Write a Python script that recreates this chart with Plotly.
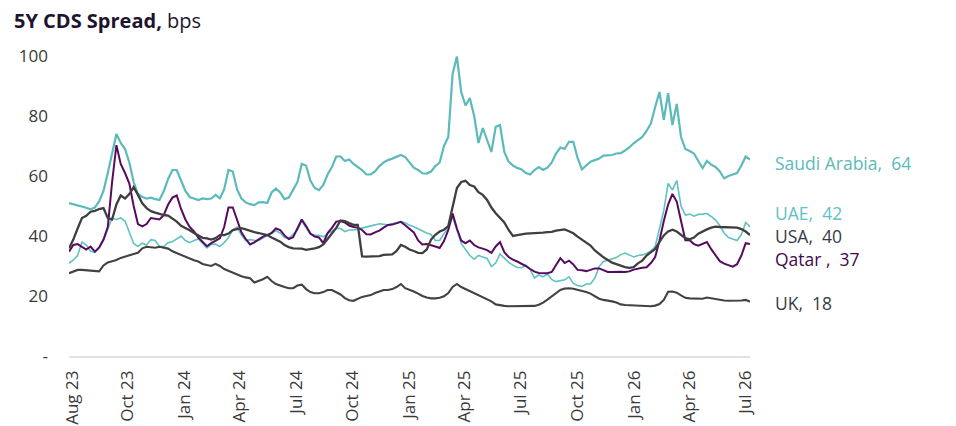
import pandas as pd
import plotly.graph_objects as go

dates = pd.date_range("2023-07-28", periods=159, freq="7D")

saudi = [51, 50.6, 50.3, 50, 49.4, 48.9, 49.5, 51.5, 55, 61,
         68, 74, 71, 69, 64.5, 58, 54, 53, 52.5, 52.8,
         52.3, 52, 55, 59, 62, 62, 58.5, 55, 53, 52.5,
         52, 52.5, 52.3, 52.5, 53.7, 52.6, 55.5, 62, 61.5, 55.5,
         52.5, 51.2, 50.6, 50.3, 51.2, 51.3, 51, 54.5, 55.8, 54.5,
         52.3, 52.8, 55.2, 58, 64, 63.5, 58.5, 56, 55.3, 57,
         60.5, 63, 66.5, 66.5, 65, 65.5, 64, 63, 62, 60.5,
         60.5, 61.5, 63.3, 64.5, 65.3, 65.8, 66.5, 67, 66.3, 64.5,
         62.8, 62, 60.9, 60.8, 61.5, 63.3, 64.5, 70, 73, 94,
         99.8, 88, 83.5, 86, 80, 71, 76, 72, 68, 76.4,
         77, 68, 64.8, 63.5, 62.7, 62.2, 61, 60.5, 62, 63,
         62, 62.8, 64.5, 67.5, 69.5, 69, 71.4, 71.4, 66, 62.2,
         63.5, 64.8, 65.3, 65.8, 66.8, 67, 67, 67.5, 67.6, 68.5,
         69.5, 70.9, 72, 73, 75, 77.5, 83, 88, 78.7, 87.6,
         77, 84, 73, 69, 68.3, 67.5, 65, 62.6, 65, 63.8,
         63, 61.5, 59.2, 60, 60.5, 61, 63.5, 66.5, 65.5]

uae = [30.9, 32, 33.5, 38, 37, 35, 34.5, 36, 38.5, 42.5,
       46, 45.5, 46, 45, 41, 37.5, 36.5, 37.6, 37, 38.8,
       38.5, 36.5, 36.5, 37.8, 38.1, 39.2, 40, 38.5, 37.8, 38.5,
       39, 37.5, 36, 37.2, 37.3, 36.5, 37.8, 39.5, 42, 43,
       40.3, 38.5, 38.8, 38.6, 38.5, 39.3, 40.3, 40.8, 41.7, 41,
       39.5, 39.2, 40.5, 42, 45, 43, 40.6, 40.3, 40.2, 39.8,
       40.7, 41.7, 42.6, 42.5, 41.5, 42, 42, 42.3, 42.6, 43,
       43.3, 43.7, 44.1, 44, 43.7, 44.1, 44.5, 44.8, 44.4, 43.6,
       43.1, 42.4, 41.5, 41, 40.5, 38.5, 38.5, 40.8, 42.5, 46.4,
       42, 37.5, 35.5, 33.5, 32.3, 33.5, 33, 32.5, 29.8, 31,
       34, 32.5, 31.2, 30.3, 29.5, 29.4, 30.3, 28.8, 26, 27,
       26.4, 27.3, 25.5, 24.8, 25, 25.4, 26.4, 24.2, 23.5, 23.2,
       24, 24, 26, 29.8, 31.5, 32, 32.3, 32.8, 33.8, 34.3,
       33.7, 33, 33.5, 33.7, 34.2, 35, 36.5, 43, 48.5, 57.5,
       55.3, 58.5, 50, 47, 47.3, 46.6, 47.2, 47.3, 47.5, 46.5,
       45.3, 43.5, 41, 39.5, 39, 38.5, 40.5, 44.5, 43]

qatar = [34.8, 37, 37.3, 36.5, 35.5, 36.5, 34.8, 36.2, 38.8, 43,
         58, 70.3, 64, 61, 57.5, 50, 44, 43.2, 44, 46,
         45.8, 45.5, 47, 50.5, 52.8, 53.5, 49, 45.5, 43, 41.5,
         39.5, 38.2, 36.6, 37.6, 38.5, 39.2, 43, 49.5, 49.5, 45.4,
         41.2, 39, 37.2, 37.9, 38.9, 39.8, 40.3, 41, 42.5, 42,
         40.2, 39, 39.6, 42.5, 45.5, 43.3, 40.8, 39.8, 39.5, 37.6,
         41, 42.7, 44.8, 45, 44.5, 43.5, 43, 42.8, 42, 40.6,
         40.5, 41.2, 41.8, 42.8, 43.7, 43.8, 44.2, 44.7, 43.6, 42.4,
         41.2, 38.5, 37.2, 37.3, 37, 36.5, 36, 38.3, 42, 47.5,
         42.5, 38.5, 37.6, 38.5, 37, 36.2, 35.8, 35.3, 34.4, 36.5,
         38, 34.6, 33, 32.1, 31.5, 30.8, 30, 29, 28.1, 27.7,
         27.6, 27.6, 28, 30.2, 32.6, 31, 31.8, 30.5, 28.7, 28.6,
         28.3, 28.7, 29.2, 29.2, 28.7, 28, 28, 28.1, 28.1, 28,
         28.2, 28.8, 29.2, 29.4, 29.6, 31, 33, 38.5, 45, 50.5,
         54, 51.5, 45, 38.6, 38.6, 37.3, 36.8, 37.4, 38, 35.6,
         33.5, 31.6, 30.8, 30.2, 29.8, 30.6, 33.5, 37.6, 37.3]

usa = [35.9, 38.8, 42.5, 46, 46.7, 48.1, 48.4, 49, 49.3, 46,
       45.5, 50.5, 53.5, 52.5, 54, 56.3, 53.7, 50.9, 49.3, 48.3,
       47.8, 47.3, 47, 46.8, 45.9, 44.8, 43.4, 42.7, 41.9, 41,
       40.2, 39.4, 39.2, 38.8, 39.3, 40.3, 40.3, 40.8, 42, 42.3,
       42.6, 42.2, 41.7, 41.3, 41, 40.6, 40.3, 39.5, 38.8, 38.1,
       37, 36.3, 35.9, 35.9, 35.8, 35.4, 35.6, 35.9, 36.3, 37.2,
       39, 41, 42.7, 45.2, 45, 44.3, 43.7, 43.7, 33.2, 33.1,
       33.1, 33.1, 33.3, 33.7, 33.7, 33.9, 35, 37, 36.4, 35.5,
       35, 34.4, 34.3, 35.5, 38.8, 40.4, 41.5, 42.1, 43.3, 49.8,
       56, 58, 58.4, 57, 56.5, 54.6, 53.7, 52, 49.5, 47.6,
       46, 44.5, 42, 40, 40.3, 40.6, 40.8, 40.9, 40.9, 41,
       41.1, 41.3, 41.4, 41.8, 42.1, 42.2, 41.6, 40.9, 39.8, 38.7,
       37.8, 36.8, 35.2, 34, 32.9, 32, 31.1, 30.6, 30, 29.6,
       29.4, 29.6, 30.9, 31.8, 33.5, 34.6, 35.7, 38, 40.2, 41.5,
       42.1, 41.5, 40.4, 39.3, 38.9, 39.5, 40.8, 41.6, 42.2, 42.8,
       43.1, 43, 43, 43, 42.9, 42.8, 42.3, 41.5, 40.3]

uk = [27.6, 28.2, 28.7, 28.7, 28.6, 28.3, 28.2, 28.2, 30.2, 31.2,
      31.6, 32, 32.7, 33.2, 33.6, 34, 34.4, 35.9, 36.4, 36.2,
      36.1, 36.4, 36.2, 35.8, 34.9, 34.3, 33.6, 33.2, 32.5, 31.9,
      31.5, 30.7, 30.3, 30, 30.7, 30, 29, 28.4, 27.6, 27,
      26.6, 26.2, 25.9, 24.5, 25, 25.6, 26.4, 25, 24, 23.4,
      23, 22.6, 22.6, 23.5, 23.8, 22.3, 21.3, 20.9, 20.9, 21.3,
      22, 22, 21.3, 20.5, 19.3, 18.6, 18.4, 19.1, 19.7, 20,
      20.3, 21, 21.6, 22, 22, 22.3, 23, 24, 22.6, 22.1,
      21.5, 20.8, 20, 19.5, 19.2, 19.2, 19.4, 19.9, 21, 23,
      24, 23, 22.3, 21.6, 20.9, 20.2, 19.6, 19, 18.2, 17.2,
      16.9, 16.7, 16.6, 16.6, 16.6, 16.6, 16.6, 16.6, 16.7, 17.1,
      17.8, 18.8, 19.8, 21, 22, 22.5, 22.6, 22.4, 22.1, 21.8,
      21.3, 20.8, 20, 19.1, 18.7, 18.5, 18.2, 17.8, 17.2, 17,
      16.9, 16.9, 16.8, 16.8, 16.7, 16.6, 16.8, 17.3, 18.7, 21.4,
      21.5, 21.1, 20.2, 19.4, 19.2, 19.2, 19.2, 19.1, 19.5, 19.2,
      19, 18.7, 18.5, 18.4, 18.4, 18.3, 18.5, 18.7, 18.1]

tick_dates = ["2023-08-02", "2023-10-31", "2024-01-31", "2024-04-30", "2024-07-31",
              "2024-10-31", "2025-01-31", "2025-04-30", "2025-07-31", "2025-10-31",
              "2026-01-31", "2026-04-30", "2026-07-31"]
tick_labels = ["Aug 23", "Oct 23", "Jan 24", "Apr 24", "Jul 24", "Oct 24", "Jan 25",
               "Apr 25", "Jul 25", "Oct 25", "Jan 26", "Apr 26", "Jul 26"]

y_ticks = [0, 20, 40, 60, 80, 100]
y_labels = ["-", "20", "40", "60", "80", "100"]

end_labels = ["Saudi Arabia,  64", "UAE,  42", "USA,  40", "Qatar ,  37", "UK,  18"]
end_label_y = [64.3, 47.6, 40.0, 32.4, 17.6]

C_SAUDI = "#5cbabb"
C_UAE = "#62c2c3"
C_QATAR = "#560b60"
C_USA = "#3f3f3f"
C_UK = "#424242"

fig = go.Figure()
fig.add_trace(go.Scatter(x=dates, y=uae, mode="lines", line=dict(color=C_UAE, width=1.6), name="UAE"))
fig.add_trace(go.Scatter(x=dates, y=qatar, mode="lines", line=dict(color=C_QATAR, width=2), name="Qatar"))
fig.add_trace(go.Scatter(x=dates, y=saudi, mode="lines", line=dict(color=C_SAUDI, width=2.2), name="Saudi Arabia"))
fig.add_trace(go.Scatter(x=dates, y=usa, mode="lines", line=dict(color=C_USA, width=2.3), name="USA"))
fig.add_trace(go.Scatter(x=dates, y=uk, mode="lines", line=dict(color=C_UK, width=2.1), name="UK"))

label_colors = [C_SAUDI, C_UAE, "#353c45", "#430a4e", "#353c45"]
for txt, yy, col in zip(end_labels, end_label_y, label_colors):
    fig.add_annotation(x=1.035, xref="paper", y=yy, yref="y", text=txt, showarrow=False,
                       xanchor="left", yanchor="middle", borderpad=0,
                       font=dict(family="Open Sans", size=17.5, color=col))

fig.update_layout(
    width=948, height=418,
    margin=dict(l=61, r=206, t=48, b=70, autoexpand=False),
    paper_bgcolor="white", plot_bgcolor="white",
    showlegend=False,
    font=dict(family="Open Sans", color="#3a3a3a"),
    title=dict(text="<b>5Y CDS Spread,</b> bps", x=0.0063, xanchor="left", xref="container",
               y=0.969, yanchor="middle", yref="container",
               font=dict(family="Open Sans", size=20, color="#1e1430")),
)
fig.update_xaxes(
    tickmode="array", tickvals=tick_dates, ticktext=tick_labels, tickangle=-90,
    showgrid=False, zeroline=False, showline=True, linecolor="#dde1e8", linewidth=1.5,
    ticks="", ticklabelstandoff=6, automargin=False,
    tickfont=dict(family="Open Sans", size=17, color="#3a3a3a"),
)
fig.update_yaxes(
    range=[0, 100], tickmode="array", tickvals=y_ticks, ticktext=y_labels,
    showgrid=False, zeroline=False, showline=False, ticks="",
    ticklabelstandoff=20, automargin=False,
    tickfont=dict(family="Open Sans", size=17, color="#3a3a3a"),
)

fig.write_html("out.html")
